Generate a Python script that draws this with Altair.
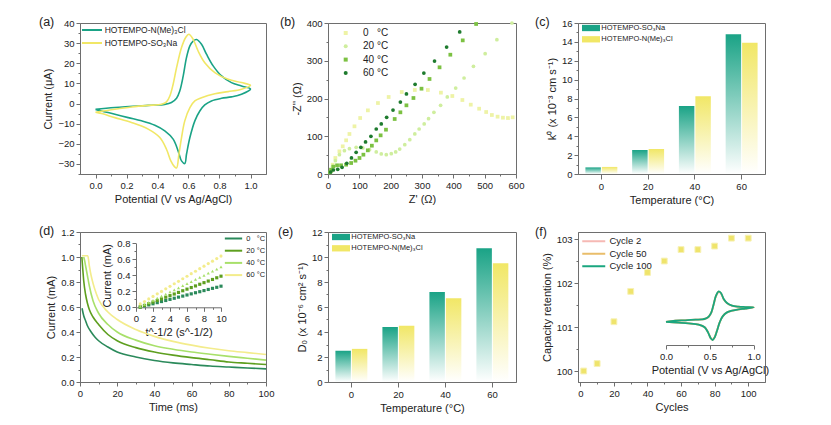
import altair as alt
import pandas as pd

FONT = "Liberation Sans"
TXT = "#222222"
FRAME = "#6e6e6e"
GREEN = "#1aa386"
YELLOW = "#f1e766"
NB = "\u00a0"

# ---------------- (a) cyclic voltammetry ----------------
A_SERIES = ["HOTEMPO-N(Me)₃Cl", "HOTEMPO-SO₃Na"]
a_nme_v = [0.0, 0.125, 0.34, 0.447, 0.49, 0.523, 0.544, 0.566, 0.587, 0.609, 0.63, 0.652, 0.684, 0.716, 0.759, 0.813, 0.877, 0.942, 1.0,
           0.942, 0.877, 0.813, 0.748, 0.705, 0.673, 0.641, 0.609, 0.587, 0.576, 0.555, 0.533, 0.501, 0.447, 0.383, 0.297, 0.211, 0.125, 0.039, 0.0]
a_nme_i = [-2.9, -2.0, -0.9, -0.4, 0.5, 2.6, 6.3, 13.7, 22.8, 28.6, 31.0, 31.8, 29.4, 24.5, 18.7, 13.7, 10.4, 8.7, 7.2,
           4.6, 3.3, 2.6, 1.3, -0.7, -3.7, -8.6, -16.9, -25.2, -29.8, -28.5, -23.5, -17.7, -13.6, -10.8, -8.6, -7.0, -5.3, -3.7, -2.9]
a_so3_v = [0.0, 0.125, 0.232, 0.34, 0.426, 0.458, 0.48, 0.501, 0.523, 0.555, 0.581, 0.602, 0.63, 0.662, 0.705, 0.77, 0.856, 0.942, 1.0,
           0.942, 0.856, 0.77, 0.684, 0.641, 0.609, 0.576, 0.555, 0.538, 0.523, 0.508, 0.486, 0.458, 0.415, 0.34, 0.232, 0.125, 0.039, 0.0]
a_so3_i = [-4.3, -2.8, -1.7, -0.9, -0.4, 0.8, 3.8, 9.6, 17.8, 27.8, 32.7, 34.4, 31.9, 26.1, 20.3, 15.4, 12.0, 10.4, 9.0,
           7.1, 5.9, 4.9, 2.9, 1.3, -2.0, -8.6, -16.9, -25.2, -32.0, -31.2, -28.5, -22.7, -16.9, -12.7, -9.4, -7.0, -5.0, -4.3]

# ---------------- (b) Nyquist ----------------
B_TEMPS = ["0" + NB * 3 + "°C", "20 °C", "40 °C", "60 °C"]
B_COLORS = ["#eef3a6", "#cfee9e", "#7cc142", "#1e7b2e"]
b0_re = [11, 15, 23.5, 36.4, 47, 57.8, 68.4, 84.5, 102.7, 127.3, 159.4, 193.6, 235.3, 277, 318.7, 360.4, 396.8, 428.9, 455.6, 482.4, 504.8, 523, 541.2, 558.3, 574.3, 589.3]
b0_im = [8, 24.7, 42.4, 60, 73.3, 89.2, 106, 126.3, 148.3, 168.6, 188, 204, 217.2, 222.5, 222.5, 215.5, 206.6, 196, 183.7, 173, 164.2, 156.3, 151.9, 149.2, 148.3, 150.1]
b20_re = [9.6, 15, 23.5, 36.4, 52.4, 68.4, 89.8, 111.2, 132.6, 154, 170, 186, 202, 216, 228.9, 245, 261, 277, 290.9, 307, 320.9, 338, 359.4, 380.7, 407.5, 434.2, 464.2, 501.6, 539, 587]
b20_im = [7.1, 20.3, 35.3, 51.2, 61.8, 67.1, 70.6, 68.9, 64.5, 58.3, 53, 51.2, 53.9, 58.3, 66.2, 77.7, 91, 106, 119.2, 132.5, 146.6, 163.4, 181.9, 204, 227.8, 254.3, 285.2, 318.8, 355.8, 400]
b40_re = [6.4, 9.6, 17.1, 28.9, 41.7, 57.8, 73.8, 87.7, 100.5, 113, 127, 140, 154, 168, 185, 212.8, 231, 250.3, 272.7, 298.4, 324, 356, 390.4, 430, 472.7]
b40_im = [4.4, 11.5, 19.4, 23, 23, 24.7, 29.1, 35.3, 42.4, 51.2, 62.7, 75, 89, 102.4, 117.4, 145.7, 163.4, 181.9, 201.3, 226, 251.7, 282.6, 316, 354, 397.4]
b60_re = [8.6, 17.1, 31, 44.9, 59.9, 74.9, 89.8, 104.8, 119.8, 137, 154, 170, 187.2, 207.5, 231, 250.3, 278, 305.9, 340, 378.6, 420.3]
b60_im = [5.3, 10.6, 12.4, 17.7, 28.3, 42.4, 57.4, 70.6, 84.8, 99.8, 119.2, 132.5, 150.1, 169.5, 190.7, 212, 237.5, 267.5, 299.3, 336.4, 376.2]

# ---------------- (c) / (e) bars ----------------
TEMPS = ["0", "20", "40", "60"]
BAR_SERIES = ["HOTEMPO-SO₃Na", "HOTEMPO-N(Me)₃Cl"]
c_so3 = [0.7, 2.55, 7.2, 14.8]
c_nme = [0.75, 2.65, 8.25, 13.9]
e_so3 = [2.5, 4.4, 7.2, 10.7]
e_nme = [2.65, 4.5, 6.7, 9.5]

# ---------------- (d) chronoamperometry ----------------
D_TEMPS = ["0" + NB * 3 + "°C", "20 °C", "40 °C", "60 °C"]
D_COLORS = ["#2b8a5b", "#5e9f1f", "#a8e06a", "#f3ec8c"]
D_SHAPES = ["square", "square", "triangle-up", "circle"]
d0_t = [1.1, 2, 3, 4, 6, 8, 10, 15, 20, 30, 40, 50, 60, 70, 80, 90, 100]
d0_i = [0.59, 0.53, 0.49, 0.45, 0.40, 0.36, 0.33, 0.28, 0.24, 0.20, 0.172, 0.153, 0.14, 0.128, 0.12, 0.112, 0.105]
d20_t = [1.0, 1.5, 2, 3, 4, 5, 7, 10, 15, 20, 30, 40, 50, 60, 70, 80, 90, 100]
d20_i = [1.0, 0.9, 0.81, 0.70, 0.63, 0.58, 0.52, 0.46, 0.38, 0.33, 0.275, 0.24, 0.215, 0.195, 0.178, 0.16, 0.15, 0.14]
d40_t = [2.0, 2.5, 3, 4, 5, 7, 10, 15, 20, 30, 40, 50, 60, 70, 80, 90, 100]
d40_i = [1.0, 0.97, 0.93, 0.85, 0.77, 0.65, 0.55, 0.46, 0.40, 0.335, 0.29, 0.262, 0.24, 0.222, 0.205, 0.19, 0.175]
d60_t = [1.0, 2, 3, 4.2, 5, 6, 7, 8, 10, 15, 20, 30, 40, 50, 60, 70, 80, 90, 100]
d60_i = [1.01, 1.01, 1.01, 1.01, 0.93, 0.85, 0.79, 0.74, 0.66, 0.56, 0.50, 0.42, 0.365, 0.325, 0.295, 0.27, 0.25, 0.235, 0.22]
# inset: current vs t^-1/2
di_x = [0.5, 1, 1.5, 2, 2.5, 3, 3.5, 4, 4.5, 5, 5.5, 6, 6.5, 7, 7.5, 8, 8.5, 9, 9.5, 10]
di_0 = [0.003, 0.017, 0.030, 0.044, 0.058, 0.072, 0.085, 0.099, 0.113, 0.127, 0.140, 0.154, 0.168, 0.182, 0.195, 0.209, 0.223, 0.237, 0.250, 0.264]
di_20 = [0.004, 0.024, 0.045, 0.065, 0.085, 0.105, 0.126, 0.146, 0.166, 0.186, 0.207, 0.227, 0.247, 0.267, 0.288, 0.308, 0.328, 0.348, 0.369, 0.389]
di_40 = [0.010, 0.036, 0.062, 0.088, 0.114, 0.140, 0.166, 0.192, 0.218, 0.244, 0.270, 0.296, 0.322, 0.348, 0.374, 0.400, 0.426, 0.452, 0.478, 0.504]
di_60 = [0.042, 0.073, 0.105, 0.136, 0.168, 0.199, 0.231, 0.262, 0.294, 0.325, 0.357, 0.388, 0.420, 0.451, 0.483, 0.514, 0.546, 0.577, 0.609, 0.640]

# ---------------- (f) cycling ----------------
f_cycles = [2, 10, 20, 30, 40, 50, 60, 70, 80, 90, 100]
f_ret = [100.0, 100.17, 101.12, 101.81, 102.24, 102.5, 102.76, 102.76, 102.84, 103.02, 103.02]
F_CYC = ["Cycle 2", "Cycle 50", "Cycle 100"]
F_COL = ["#f6b9b4", "#e9bd6a", "#1aa67f"]
fi_v = [0.0, 0.106, 0.221, 0.335, 0.411, 0.449, 0.487, 0.517, 0.544, 0.570, 0.601, 0.627, 0.658, 0.696, 0.753, 0.829, 0.905, 1.0,
        0.905, 0.829, 0.753, 0.696, 0.646, 0.612, 0.582, 0.555, 0.532, 0.510, 0.479, 0.441, 0.373, 0.259, 0.144, 0.0]
fi_c2 = [-1.2, 0.0, 0.4, 1.0, 1.3, 2.0, 4.1, 8.6, 17.4, 26.2, 30.8, 29.0, 22.8, 18.6, 15.9, 14.8, 14.4, 14.1,
         12.8, 12.0, 10.6, 8.8, 4.5, -1.7, -10.4, -17.5, -20.2, -18.5, -12.3, -7.0, -4.3, -2.9, -2.1, -1.2]
fi_c50 = [-1.2, 0.0, 0.4, 1.1, 1.4, 2.1, 4.2, 8.8, 17.7, 26.5, 31.1, 29.3, 23.0, 18.8, 16.0, 14.9, 14.5, 14.2,
          12.9, 12.1, 10.7, 8.9, 4.6, -1.8, -10.6, -17.7, -20.5, -18.7, -12.4, -7.1, -4.3, -2.9, -2.1, -1.2]
fi_c100 = [-1.2, 0.0, 0.4, 1.1, 1.4, 2.1, 4.3, 8.9, 17.9, 26.8, 31.4, 29.6, 23.2, 18.9, 16.1, 15.0, 14.6, 14.2,
           12.9, 12.1, 10.7, 8.9, 4.6, -1.8, -10.7, -17.9, -20.7, -18.9, -12.5, -7.1, -4.3, -2.9, -2.1, -1.2]


def series_df(name, xs, ys):
    return pd.DataFrame({"s": name, "x": xs, "y": ys, "order": list(range(len(xs)))})


def ptitle(text, dx, dy):
    return alt.TitleParams(text=text, anchor="start", frame="group", dx=dx, dy=dy, offset=0,
                           baseline="bottom", fontSize=12.5, fontWeight="normal", font=FONT, color=TXT)


def line_legend(x, y, size, font, loff, rowpad):
    return alt.Legend(title=None, orient="none", legendX=x, legendY=y, symbolType="M-2,0H2",
                      symbolSize=size, symbolStrokeWidth=2, labelFontSize=font, labelOffset=loff,
                      rowPadding=rowpad, padding=0, labelFont=FONT, labelColor=TXT)


def ax(major, minor, title, fmt=None, **kw):
    vals = sorted(major + minor)
    maj = "[" + ",".join(repr(v) for v in major) + "]"
    lab = f"format(datum.value, '{fmt}')" if fmt else "datum.label"
    return alt.Axis(values=vals, title=title,
                    labelExpr=f"indexof({maj}, datum.value) >= 0 ? {lab} : ''",
                    tickSize={"condition": {"test": f"indexof({maj}, datum.value) < 0", "value": 2}, "value": 4},
                    **kw)


TDY = 23

# ---- panel a
a_df = pd.concat([series_df(A_SERIES[0], a_nme_v, a_nme_i), series_df(A_SERIES[1], a_so3_v, a_so3_i)])
panel_a = alt.Chart(a_df).mark_line(strokeWidth=1.6, interpolate="catmull-rom").encode(
    x=alt.X("x:Q", scale=alt.Scale(domain=[-0.1, 1.1], nice=False, zero=False),
            axis=ax([0, 0.2, 0.4, 0.6, 0.8, 1.0], [0.1, 0.3, 0.5, 0.7, 0.9], "Potential (V vs Ag/AgCl)", ".1f")),
    y=alt.Y("y:Q", scale=alt.Scale(domain=[-35, 40], nice=False, zero=False),
            axis=ax([-30, -20, -10, 0, 10, 20, 30, 40], [-35, -25, -15, -5, 5, 15, 25, 35], "Current (μA)", "d")),
    color=alt.Color("s:N", scale=alt.Scale(domain=A_SERIES, range=[GREEN, YELLOW]),
                    legend=line_legend(6, 1, 100, 8.5, 6.7, 2)),
    detail="s:N",
    order="order:Q",
).properties(width=186, height=151, title=ptitle("(a)", -41, TDY))

# ---- panel b
b_df = pd.concat([series_df(B_TEMPS[0], b0_re, b0_im), series_df(B_TEMPS[1], b20_re, b20_im),
                  series_df(B_TEMPS[2], b40_re, b40_im), series_df(B_TEMPS[3], b60_re, b60_im)])
b_leg = alt.Legend(title=None, orient="none", legendX=12.7, legendY=5, symbolSize=16, labelFontSize=10,
                   labelOffset=12.3, rowPadding=3.3, padding=0, labelFont=FONT, labelColor=TXT)
panel_b = alt.Chart(b_df).mark_point(filled=True, size=14, opacity=1).encode(
    x=alt.X("x:Q", scale=alt.Scale(domain=[0, 600], nice=False),
            axis=ax([0, 100, 200, 300, 400, 500, 600], [50, 150, 250, 350, 450, 550], "Z' (Ω)", "d")),
    y=alt.Y("y:Q", scale=alt.Scale(domain=[0, 400], nice=False),
            axis=ax([0, 100, 200, 300, 400], [50, 150, 250, 350], "-Z'' (Ω)", "d")),
    color=alt.Color("s:N", scale=alt.Scale(domain=B_TEMPS, range=B_COLORS), legend=b_leg),
    shape=alt.Shape("s:N", scale=alt.Scale(domain=B_TEMPS, range=["square", "circle", "square", "circle"]), legend=b_leg),
).properties(width=188, height=151, title=ptitle("(b)", -48, TDY))


# ---- bar panels
def grad(col):
    return alt.LinearGradient(gradient="linear", x1=0, x2=0, y1=0, y2=1,
                              stops=[alt.GradientStop(color=col, offset=0),
                                     alt.GradientStop(color="#ffffff", offset=1)])


def bar_panel(so3, nme, ymax, ytitle, w, h, label, dx, dy):
    df = pd.DataFrame({"temp": TEMPS * 2, "series": [BAR_SERIES[0]] * 4 + [BAR_SERIES[1]] * 4, "val": so3 + nme})
    x = alt.X("temp:N", sort=TEMPS, scale=alt.Scale(domain=TEMPS, paddingInner=0, paddingOuter=0),
              axis=alt.Axis(labelAngle=0, title="Temperature (°C)"))
    xo = alt.XOffset("series:N", scale=alt.Scale(domain=BAR_SERIES, paddingInner=0.06, paddingOuter=0.45))
    y = alt.Y("val:Q", scale=alt.Scale(domain=[0, ymax], nice=False),
              axis=ax(list(range(0, ymax + 1, 2)), list(range(1, ymax, 2)), ytitle, "d"))
    base = alt.Chart(df)
    g = base.transform_filter(alt.datum.series == BAR_SERIES[0]).mark_bar(fill=grad(GREEN)).encode(x=x, xOffset=xo, y=y)
    yb = base.transform_filter(alt.datum.series == BAR_SERIES[1]).mark_bar(fill=grad(YELLOW)).encode(x=x, xOffset=xo, y=y)
    leg = base.transform_filter("false").mark_square(opacity=1).encode(
        color=alt.Color("series:N", scale=alt.Scale(domain=BAR_SERIES, range=[GREEN, YELLOW]),
                        legend=alt.Legend(title=None, orient="none", legendX=8.5, legendY=0.5,
                                          symbolType="M-2,-0.7H2V0.7H-2Z", symbolSize=81, symbolStrokeWidth=0,
                                          labelFontSize=7.5, labelOffset=5.8, rowPadding=3.3, padding=0,
                                          labelFont=FONT, labelColor=TXT)))
    return alt.layer(g, yb, leg).properties(width=w, height=h, title=ptitle(label, dx, dy))


panel_c = bar_panel(c_so3, c_nme, 16, "k⁰ (x 10⁻³ cm s⁻¹)", 187, 151, "(c)", -43, TDY)
panel_e = bar_panel(e_so3, e_nme, 12, "D₀ (x 10⁻⁶ cm² s⁻¹)", 188, 150, "(e)", -50, TDY + 1)

# ---- panel d
d_df = pd.concat([series_df(D_TEMPS[0], d0_t, d0_i), series_df(D_TEMPS[1], d20_t, d20_i),
                  series_df(D_TEMPS[2], d40_t, d40_i), series_df(D_TEMPS[3], d60_t, d60_i)])
di_df = pd.concat([series_df(D_TEMPS[0], di_x, di_0), series_df(D_TEMPS[1], di_x, di_20),
                   series_df(D_TEMPS[2], di_x, di_40), series_df(D_TEMPS[3], di_x, di_60)])
d_main = alt.Chart(d_df).mark_line(strokeWidth=1.6, interpolate="monotone").encode(
    x=alt.X("x:Q", scale=alt.Scale(domain=[0, 100], nice=False),
            axis=ax([0, 20, 40, 60, 80, 100], [10, 30, 50, 70, 90], "Time (ms)", "d")),
    y=alt.Y("y:Q", scale=alt.Scale(domain=[0, 1.2], nice=False),
            axis=ax([0, 0.2, 0.4, 0.6, 0.8, 1.0, 1.2], [0.1, 0.3, 0.5, 0.7, 0.9, 1.1], "Current (mA)", ".1f")),
    color=alt.Color("s:N", scale=alt.Scale(domain=D_TEMPS, range=D_COLORS),
                    legend=line_legend(148, 1, 75, 7.5, 7.3, 2.2)),
    detail="s:N",
    order="order:Q",
)
dix = alt.X("x:Q", scale=alt.Scale(domain=[0, 10], range=[56, 141], nice=False),
            axis=ax([0, 2, 4, 6, 8, 10], [1, 3, 5, 7, 9], "t^-1/2 (s^-1/2)", "d", orient="bottom", offset=-74.7))
diy = alt.Y("y:Q", scale=alt.Scale(domain=[0, 0.8], range=[75.3, 11.3], nice=False),
            axis=ax([0, 0.2, 0.4, 0.6, 0.8], [0.1, 0.3, 0.5, 0.7], "Current (mA)", ".1f", orient="left", offset=-56))
d_inset = alt.layer(*[
    alt.Chart(di_df).transform_filter(alt.datum.s == D_TEMPS[k]).mark_point(
        filled=True, size=10, opacity=1, color=D_COLORS[k], shape=D_SHAPES[k]).encode(x=dix, y=diy)
    for k in range(4)
])
panel_d = alt.layer(d_main, d_inset).resolve_scale(x="independent", y="independent").properties(
    width=186, height=150, title=ptitle("(d)", -41, TDY))

# ---- panel f
f_df = pd.DataFrame({"cycle": f_cycles, "ret": f_ret})
fi_df = pd.concat([series_df(F_CYC[0], fi_v, fi_c2), series_df(F_CYC[1], fi_v, fi_c50), series_df(F_CYC[2], fi_v, fi_c100)])
f_pts = alt.Chart(f_df).mark_square(size=34, color="#efe46c", stroke="#f7f1b5", strokeWidth=1, opacity=1).encode(
    x=alt.X("cycle:Q", scale=alt.Scale(domain=[-1.4, 110], nice=False, zero=False),
            axis=ax([0, 20, 40, 60, 80, 100], [10, 30, 50, 70, 90], "Cycles", "d")),
    y=alt.Y("ret:Q", scale=alt.Scale(domain=[99.75, 103.16], nice=False, zero=False),
            axis=ax([100, 101, 102, 103], [100.5, 101.5, 102.5], "Capacity retention (%)", "d")),
)
fx = alt.X("x:Q", scale=alt.Scale(domain=[0, 1], range=[88, 175.7], nice=False),
           axis=ax([0, 0.5, 1.0], [0.25, 0.75], "Potential (V vs Ag/AgCl)", ".1f", orient="bottom", offset=-37))
fy = alt.Y("y:Q", scale=alt.Scale(domain=[-30, 40], range=[116.7, 51.3], nice=False), axis=None)
f_color = alt.Color("s:N", scale=alt.Scale(domain=F_CYC, range=F_COL), legend=line_legend(8.75, 2.25, 132, 9.5, 8.75, 0.5))
f_lines = alt.layer(*[
    alt.Chart(fi_df).transform_filter(alt.datum.s == cyc).mark_line(strokeWidth=1.8, interpolate="catmull-rom").encode(
        x=fx, y=fy, color=f_color, order="order:Q")
    for cyc in F_CYC
])
panel_f = alt.layer(f_pts, f_lines).resolve_scale(x="independent", y="independent").properties(
    width=187, height=150, title=ptitle("(f)", -43, TDY - 4))

chart = alt.concat(panel_a, panel_b, panel_c, panel_d, panel_e, panel_f, columns=3,
                   spacing={"row": 58, "column": 62}, bounds="flush").resolve_scale(
    color="independent", shape="independent").properties(
    padding={"left": 30, "top": 7, "right": 5, "bottom": 5}
).configure_axis(
    grid=False, domainColor=FRAME, tickColor=FRAME, labelFont=FONT, titleFont=FONT,
    labelFontSize=9.5, titleFontSize=11, titleFontWeight="normal", labelColor=TXT, titleColor=TXT,
    labelPadding=2, titlePadding=4, labelFlush=False, labelOverlap=False
).configure_view(stroke=FRAME, strokeWidth=1).configure_legend(labelFont=FONT, labelColor=TXT, padding=0)

chart.save("out.html", embed_options={"renderer": "svg", "actions": False})
